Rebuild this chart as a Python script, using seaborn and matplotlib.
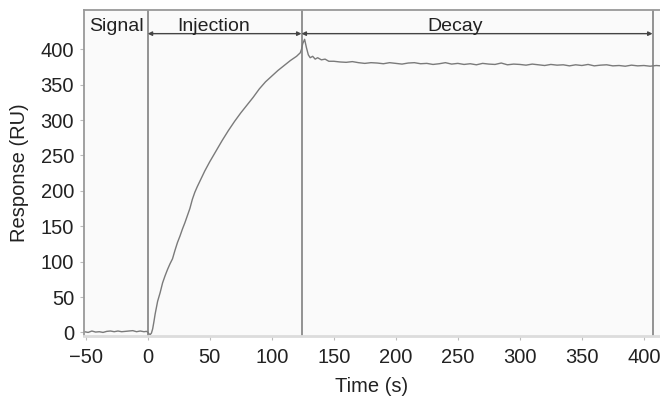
import matplotlib
matplotlib.use("Agg")
import matplotlib.pyplot as plt
import seaborn as sns
import pandas as pd

# ---- data ----
time_baseline = [-51, -48, -45, -42, -39, -36, -33, -30, -27, -24, -21, -18, -15, -12, -9, -6, -3, -1, 0]
resp_baseline = [1, 0, 2, 0.5, 1, 0, 1.5, 2, 1, 2, 1, 1.5, 2, 2.5, 1, 2, 1, 1.5, 0.5]

time_assoc = [1, 2, 3, 4, 5, 6, 7, 8, 9, 10, 12, 14, 16, 18, 20, 22, 24, 26, 28, 30, 32, 34, 36, 38, 40,
              43, 46, 50, 55, 60, 65, 70, 75, 80, 85, 90, 95, 100, 105, 110, 115, 120, 123]
resp_assoc = [-2, -3, -1, 5, 15, 26, 35, 44, 50, 56, 70, 80, 89, 97, 104, 116, 127, 136, 146, 155, 165, 175, 188, 198, 206,
              217, 228, 241, 256, 271, 285, 298, 310, 321, 332, 344, 354, 362, 370, 377, 384, 390, 395]

time_peak = [124, 125, 126.5, 128, 129.5, 131, 133, 135, 137, 140, 143, 146]
resp_peak = [400, 408, 414, 402, 392, 388, 390, 386, 388, 385, 386, 383]

time_decay = [150, 155, 160, 165, 170, 175, 180, 185, 190, 195, 200, 205, 210, 215, 220, 225, 230, 235, 240, 245,
              250, 255, 260, 265, 270, 275, 280, 285, 290, 295, 300, 305, 310, 315, 320, 325, 330, 335, 340, 345,
              350, 355, 360, 365, 370, 375, 380, 385, 390, 395, 400, 405, 410, 414]
resp_decay = [383, 382, 381.5, 382.5, 381, 380, 381, 380.5, 379.5, 381, 380, 379, 380.5, 381, 379.5, 380, 378.5, 379.5, 381, 379,
              380, 378.5, 379.5, 378, 380, 379, 378.5, 380.5, 378, 379, 378.5, 377.5, 379, 378, 377, 378.5, 377.5, 378, 376.5, 378,
              377, 378.5, 376.5, 377.5, 378, 376.5, 377, 376, 377.5, 376.5, 377, 376, 377, 376.5]

phase_bounds = [0, 124, 407]
phase_labels = ["Signal", "Injection", "Decay"]
phase_label_x = [-25, 53, 248]

df = pd.DataFrame({
    "Time (s)": time_baseline + time_assoc + time_peak + time_decay,
    "Response (RU)": resp_baseline + resp_assoc + resp_peak + resp_decay,
})

sns.set_theme(style="ticks")
plt.rcParams["font.family"] = ["Liberation Sans", "DejaVu Sans"]

FS = 14.5

fig = plt.figure(figsize=(6.6, 3.99), dpi=100)
ax = fig.add_axes([0.127, 0.158, 0.873, 0.818])
ax.set_facecolor("#fafafa")

sns.lineplot(data=df, x="Time (s)", y="Response (RU)", ax=ax, color="#7a7a7a", linewidth=1.0,
             estimator=None, sort=False)

for xb in phase_bounds:
    ax.axvline(xb, color="#8a8a8a", linewidth=1.3, zorder=1)

arrow_y = 422
for x0, x1 in [(phase_bounds[0], phase_bounds[1]), (phase_bounds[1], phase_bounds[2])]:
    ax.annotate("", xy=(x1, arrow_y), xytext=(x0, arrow_y),
                arrowprops=dict(arrowstyle="<|-|>", color="#444444", lw=1.0, mutation_scale=6,
                                shrinkA=0, shrinkB=0))

for lx, lab in zip(phase_label_x, phase_labels):
    ax.text(lx, 432, lab, ha="center", va="center", fontsize=14, color="#222222")

ax.set_xlim(-51.5, 413)
ax.set_ylim(-5, 456)
ax.set_xticks([-50, 0, 50, 100, 150, 200, 250, 300, 350, 400])
ax.set_yticks([0, 50, 100, 150, 200, 250, 300, 350, 400])
ax.set_xticklabels(["\u221250", "0", "50", "100", "150", "200", "250", "300", "350", "400"])
ax.tick_params(axis="both", labelsize=FS, labelcolor="#222222", length=3, width=0.8, color="#bbbbbb")
ax.tick_params(axis="x", pad=6)
ax.tick_params(axis="y", pad=4)
ax.set_xlabel("Time (s)", fontsize=FS, color="#222222", labelpad=7)
ax.set_ylabel("Response (RU)", fontsize=FS, color="#222222", labelpad=8)

for side in ["left", "top"]:
    ax.spines[side].set_color("#999999")
    ax.spines[side].set_linewidth(1.3)
ax.spines["bottom"].set_color("#dcdcdc")
ax.spines["bottom"].set_linewidth(2.0)
ax.spines["right"].set_visible(False)

fig.savefig("out.png", dpi=100)
